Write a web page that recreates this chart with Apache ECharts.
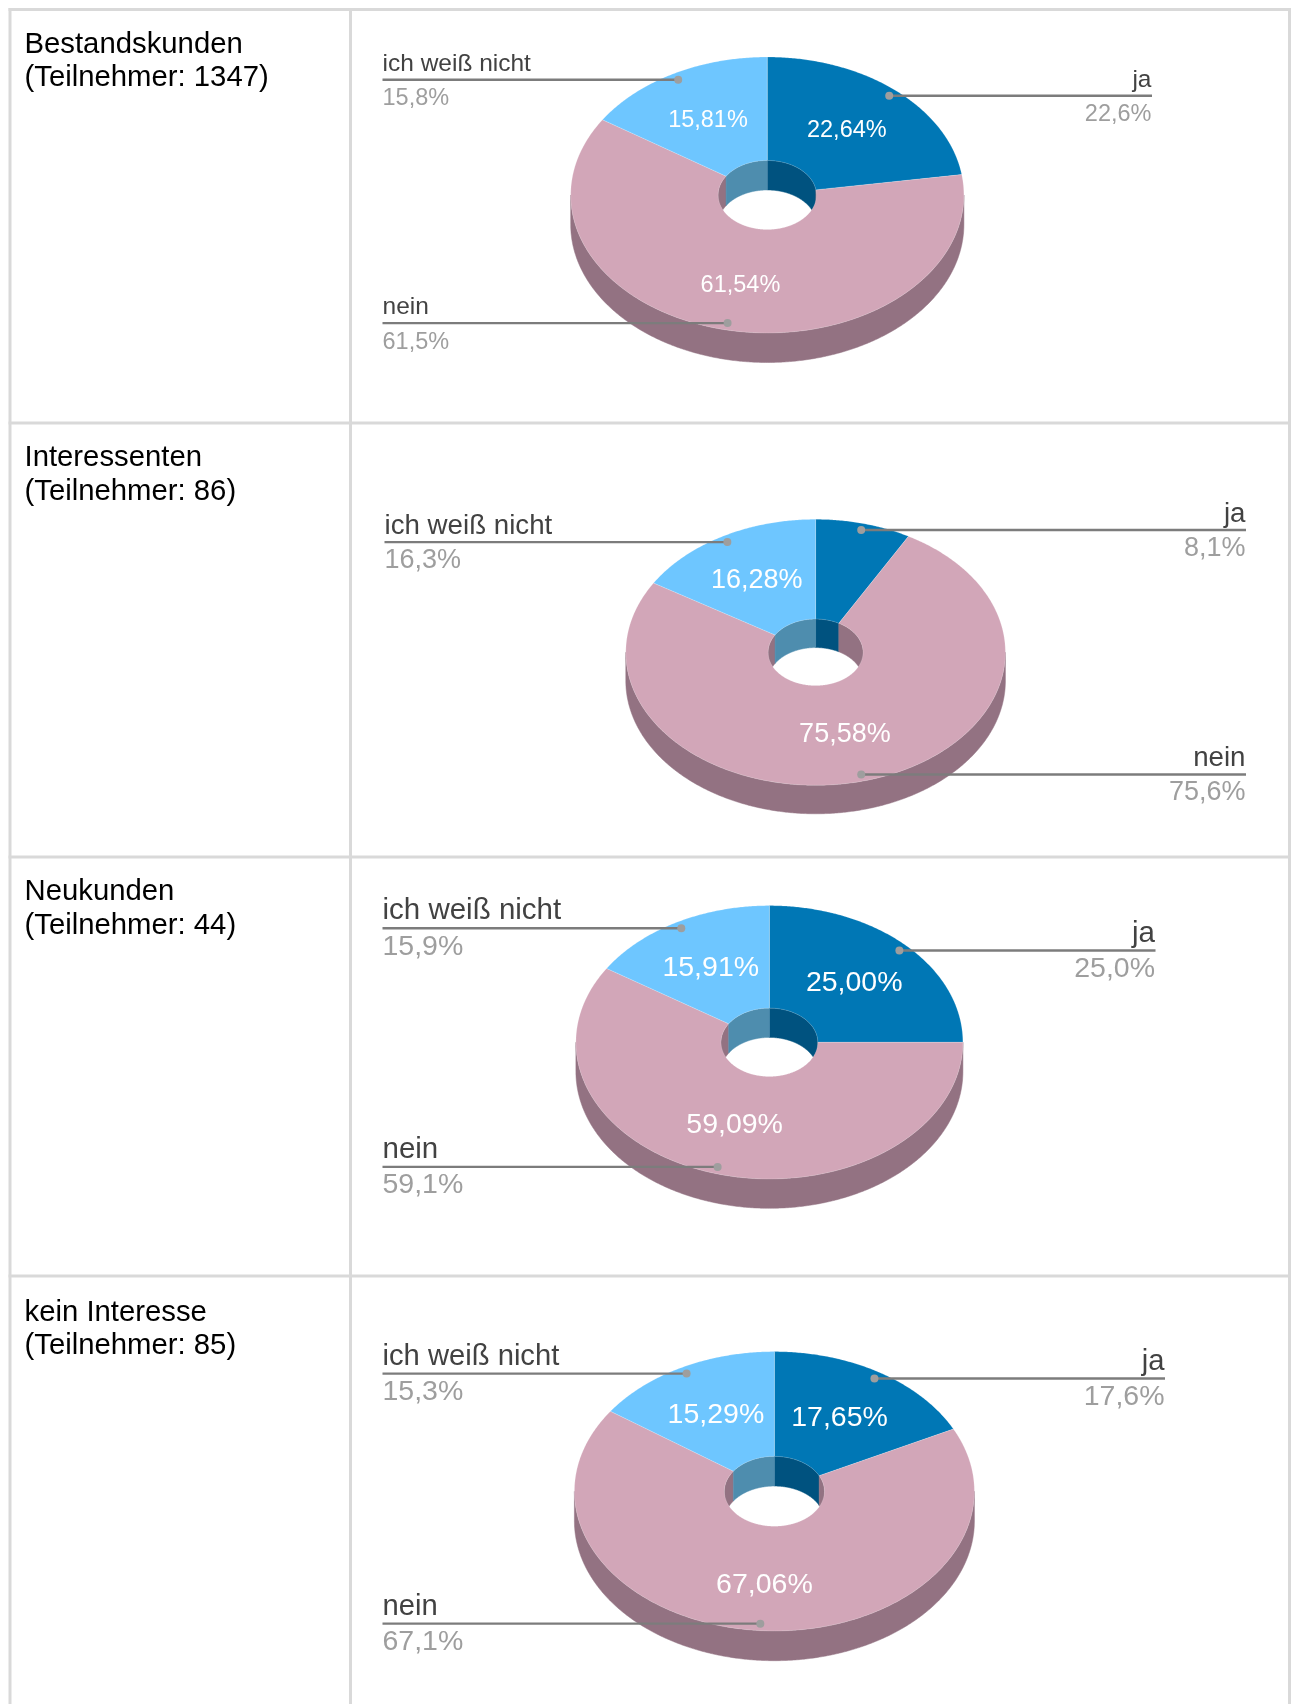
<!DOCTYPE html>
<html>
<head>
<meta charset="utf-8">
<title>Umfrage</title>
<script src="https://cdn.jsdelivr.net/npm/echarts@6/dist/echarts.min.js"></script>
<style>
  html, body { margin: 0; padding: 0; background: #fff; }
  #main { width: 1292px; height: 1704px; }
</style>
</head>
<body>
<div id="main"></div>
<script>
  const groupNames = ['Bestandskunden', 'Interessenten', 'Neukunden', 'kein Interesse'];
  const participants = [1347, 86, 44, 85];
  const categories = ['ja', 'nein', 'ich weiß nicht'];
  const jaValues = [22.64, 8.14, 25.00, 17.65];
  const neinValues = [61.54, 75.58, 59.09, 67.06];
  const weissNichtValues = [15.81, 16.28, 15.91, 15.29];

  // pie geometry, one entry per table row
  const layout = [
    { cx: 767.3, cy: 195, rx: 196.6, ry: 138, depth: 29.5, font: 23.5, nameFont: 24.5, left: 382.5, right: 1152, neinDy: 5, nameDy: -1, pctDy: 3 },
    { cx: 815.6, cy: 652.3, rx: 189.8, ry: 133, depth: 28.5, font: 27, nameFont: 27.7, left: 384.5, right: 1246, neinDy: 1, nameDy: 0, pctDy: 1 },
    { cx: 769.4, cy: 1042.3, rx: 193.5, ry: 136.7, depth: 29.3, font: 28.5, nameFont: 29.5, left: 382.5, right: 1155.5, neinDy: 0, nameDy: 0, pctDy: 0 },
    { cx: 774.4, cy: 1491.3, rx: 200, ry: 139.7, depth: 29.7, font: 28.5, nameFont: 29.2, left: 382.5, right: 1165, neinDy: 6, nameDy: 0, pctDy: 0 }
  ];
  const rowLines = [9.5, 423, 857, 1276];
  const titleOffsets = [18.5, 18.5, 18.5, 20];
  const columnLines = [10, 350.5, 1289.5];

  const topColors = ['#0077b5', '#d2a6b8', '#6ec6ff'];
  const wallColors = ['#00527f', '#937282', '#4e8dae'];
  const HOLE = 0.25;
  const FONT = '"Liberation Sans", Arial, sans-serif';

  function comma(v, digits) {
    return v.toFixed(digits).replace('.', ',') + '%';
  }

  function arc(p, a0, a1, r, dy) {
    const pts = [];
    const steps = Math.max(2, Math.ceil((a1 - a0) * 2));
    for (let i = 0; i <= steps; i++) {
      const a = (a0 + (a1 - a0) * i / steps) * Math.PI / 180;
      pts.push([p.cx + p.rx * r * Math.sin(a), p.cy - p.ry * r * Math.cos(a) + dy]);
    }
    return pts;
  }

  function wall(p, a0, a1, lo, hi, r, color) {
    const s = Math.max(a0, lo), e = Math.min(a1, hi);
    if (e <= s) return null;
    return {
      type: 'polygon', z2: 1,
      shape: { points: arc(p, s, e, r, 0).concat(arc(p, s, e, r, p.depth).reverse()) },
      style: { fill: color, stroke: color, lineWidth: 0.5 }
    };
  }

  function txt(text, x, y, size, fill, align, vAlign) {
    return {
      type: 'text', z2: 6,
      style: { text: text, x: x, y: y, fill: fill, fontSize: size, fontFamily: FONT, align: align, verticalAlign: vAlign }
    };
  }

  function renderSlice(params, api) {
    const row = api.value(4);
    const p = layout[row];
    const a0 = api.value(0), a1 = api.value(1), v = api.value(2), cat = api.value(3);
    const kids = [];

    // hole wall shows on the far side, outer wall on the near side
    [[0, 90], [270, 360]].forEach(function (r) {
      const w = wall(p, a0, a1, r[0], r[1], HOLE, wallColors[cat]);
      if (w) kids.push(w);
    });
    const outer = wall(p, a0, a1, 90, 270, 1, wallColors[cat]);
    if (outer) kids.push(outer);

    kids.push({
      type: 'polygon', z2: 2,
      shape: { points: arc(p, a0, a1, 1, 0).concat(arc(p, a0, a1, HOLE, 0).reverse()) },
      style: { fill: topColors[cat], stroke: 'rgba(255,255,255,0.3)', lineWidth: 0.6 }
    });

    const mid = (a0 + a1) / 2 * Math.PI / 180;
    const sin = Math.sin(mid), cos = Math.cos(mid);

    if (v >= 10) {
      const dy = cat === 1 ? p.neinDy : 0;
      kids.push(txt(comma(v, 2), p.cx + p.rx * 0.625 * sin - 0.7, p.cy - p.ry * 0.625 * cos + dy + 1, p.font, '#fff', 'center', 'middle'));
    }

    // leader line with name above and share below
    const dotX = p.cx + p.rx * 0.95 * sin;
    const dotY = p.cy - p.ry * 0.95 * cos;
    const onRight = sin > 0;
    const endX = onRight ? p.right : p.left;
    const textX = onRight ? endX - 0.5 : endX;
    const align = onRight ? 'right' : 'left';
    kids.push({
      type: 'line', z2: 4,
      shape: { x1: dotX, y1: dotY, x2: endX, y2: dotY },
      style: { stroke: '#7c7c7c', lineWidth: 2.4 }
    });
    kids.push({
      type: 'circle', z2: 5,
      shape: { cx: dotX, cy: dotY, r: 4 },
      style: { fill: '#9e9e9e' }
    });
    kids.push(txt(categories[cat], textX, dotY - 2 + p.nameDy, p.nameFont, '#424242', align, 'bottom'));
    kids.push(txt(comma(v, 1), textX, dotY + 4 + p.pctDy, p.font, '#9e9e9e', align, 'top'));

    return { type: 'group', children: kids };
  }

  function sliceRows(row) {
    const vals = [jaValues[row], neinValues[row], weissNichtValues[row]];
    let start = 0;
    return vals.map(function (v, cat) {
      const end = start + v * 3.6;
      const item = [start, end, v, cat, row];
      start = end;
      return item;
    });
  }

  const tableLines = [];
  rowLines.forEach(function (y) {
    tableLines.push({ type: 'line', shape: { x1: 8.5, y1: y, x2: 1291, y2: y }, style: { stroke: '#d9d9d9', lineWidth: 3 } });
  });
  columnLines.forEach(function (x) {
    tableLines.push({ type: 'line', shape: { x1: x, y1: 8, x2: x, y2: 1704 }, style: { stroke: '#d9d9d9', lineWidth: 3 } });
  });
  const rowTitles = groupNames.map(function (name, i) {
    return {
      type: 'text', left: 24.5, top: rowLines[i] + titleOffsets[i],
      style: { text: name + '\n(Teilnehmer: ' + participants[i] + ')', fill: '#000', fontSize: 29.3, lineHeight: 33.5, fontFamily: FONT }
    };
  });

  const chart = echarts.init(document.getElementById('main'), null, { renderer: 'canvas' });
  chart.setOption({
    animation: false,
    backgroundColor: '#fff',
    graphic: tableLines.concat(rowTitles),
    series: groupNames.map(function (name, row) {
      return {
        type: 'custom',
        name: name,
        coordinateSystem: 'none',
        silent: true,
        renderItem: renderSlice,
        data: sliceRows(row)
      };
    })
  });
</script>
</body>
</html>
